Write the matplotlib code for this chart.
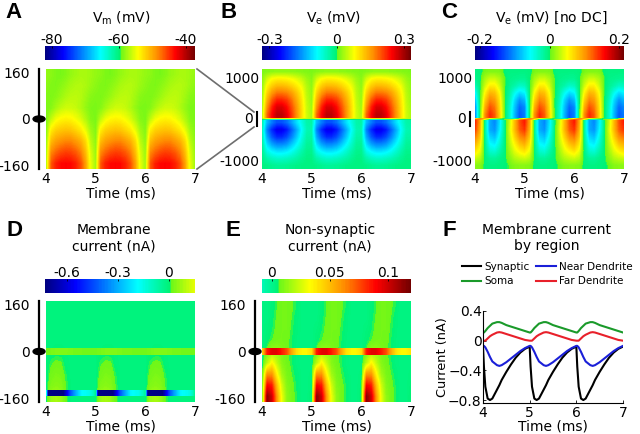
import numpy as np
import matplotlib
matplotlib.use('Agg')
import matplotlib.pyplot as plt
from matplotlib.colors import LinearSegmentedColormap, Normalize
from matplotlib.lines import Line2D
from matplotlib.patches import Ellipse

W, H = 640, 434

# one cycle of each field, columns are 0, 0.1 ... 0.9 ms after the cycle start, rows top to bottom
vm_field = [
    [-58.0, -58.3, -58.8, -59.0, -58.6, -58.0, -57.6, -57.3, -57.3, -57.6],
    [-58.3, -58.7, -58.8, -58.4, -57.9, -57.3, -57.0, -56.9, -57.2, -57.8],
    [-58.7, -58.8, -58.4, -57.8, -57.1, -56.7, -56.6, -56.9, -57.6, -58.4],
    [-58.9, -58.5, -57.4, -56.5, -56.0, -56.0, -56.3, -57.0, -58.0, -58.8],
    [-58.9, -56.5, -54.8, -54.0, -53.7, -53.9, -54.6, -55.6, -57.0, -58.5],
    [-58.6, -53.5, -52.0, -51.5, -51.2, -51.4, -52.2, -53.2, -55.0, -57.5],
    [-58.2, -51.0, -49.5, -48.8, -48.3, -48.3, -49.2, -50.3, -52.5, -56.5],
    [-57.8, -48.5, -47.0, -46.0, -45.5, -45.7, -46.5, -48.0, -51.0, -55.5],
    [-57.5, -46.5, -44.3, -43.4, -43.2, -43.4, -44.3, -46.0, -49.5, -55.0],
]
ve_upper = [
    [.012, .016, .020, .022, .022, .022, .020, .018, .016, .014],
    [.018, .055, .080, .088, .088, .084, .076, .064, .050, .030],
    [.022, .084, .116, .132, .132, .126, .112, .094, .072, .040],
    [.026, .110, .155, .180, .180, .172, .152, .122, .088, .046],
    [.028, .135, .195, .228, .228, .214, .182, .142, .098, .050],
    [.032, .160, .228, .268, .268, .244, .202, .156, .104, .054],
    [.036, .185, .245, .285, .285, .260, .212, .160, .106, .056],
]
ve_lower = [
    [-.030, -.130, -.170, -.200, -.200, -.180, -.145, -.105, -.070, -.035],
    [-.035, -.165, -.225, -.262, -.262, -.238, -.190, -.140, -.085, -.040],
    [-.030, -.140, -.195, -.225, -.225, -.204, -.165, -.120, -.072, -.032],
    [-.022, -.105, -.145, -.165, -.165, -.152, -.122, -.090, -.055, -.024],
    [-.015, -.070, -.092, -.105, -.105, -.097, -.080, -.058, -.036, -.016],
    [-.010, -.034, -.048, -.055, -.055, -.050, -.042, -.032, -.020, -.010],
    [-.008, -.012, -.018, -.022, -.022, -.020, -.016, -.012, -.010, -.008],
]
ve_stripe = [
    [.040, .080, .100, .100, .100, .090, .080, .070, .060, .050],
    [-.005, -.030, -.050, -.050, -.040, -.030, -.020, -.010, -.005, -.005],
]
nodc_upper = [
    [-.006, -.004, .006, .010, .010, .008, -.002, -.006, -.006, -.006],
    [-.012, -.003, .022, .035, .035, .024, .002, -.008, -.010, -.012],
    [-.030, -.004, .035, .060, .058, .036, .002, -.012, -.022, -.034],
    [-.060, -.004, .055, .088, .082, .052, .002, -.020, -.050, -.070],
    [-.085, -.004, .072, .110, .100, .062, .002, -.028, -.070, -.100],
    [-.105, -.004, .090, .130, .115, .068, .002, -.034, -.080, -.118],
    [-.110, .000, .105, .145, .125, .072, .003, -.036, -.085, -.125],
]
nodc_lower = [
    [.150, .095, -.015, -.090, -.105, -.065, -.008, .035, .085, .130],
    [.140, .090, -.015, -.090, -.100, -.060, -.008, .040, .085, .125],
    [.115, .078, -.012, -.072, -.082, -.048, -.006, .034, .072, .105],
    [.090, .062, -.009, -.055, -.062, -.036, -.005, .028, .056, .080],
    [.065, .046, -.006, -.036, -.040, -.022, -.004, .020, .042, .056],
    [.036, .028, -.004, -.015, -.016, -.009, -.003, .012, .026, .032],
    [.012, .010, -.003, -.006, -.006, -.004, -.003, .003, .010, .012],
]
nodc_stripe = [
    [.060, .110, .090, .050, .025, .008, -.005, -.030, -.030, .010],
    [.130, .110, .050, -.015, -.030, -.020, .005, .025, .045, .100],
]
im_field = [
    [-.005, -.005, -.005, -.005, -.005, -.005, -.005, -.005, -.005, -.005],
    [-.005, -.005, -.005, -.005, -.005, -.005, -.005, -.005, -.005, -.005],
    [-.005, -.005, -.005, -.005, -.005, -.005, -.005, -.005, -.005, -.005],
    [-.005, -.005, -.005, -.005, -.005, -.005, -.005, -.005, -.005, -.005],
    [-.005, -.004, -.002, -.002, -.004, -.005, -.005, -.005, -.005, -.005],
    [-.005, .010, .018, .016, -.002, -.005, -.005, -.005, -.005, -.005],
    [-.005, .022, .032, .028, .008, -.005, -.005, -.005, -.005, -.005],
    [-.005, .036, .046, .040, .014, -.005, -.005, -.005, -.005, -.005],
    [-.005, .070, .085, .065, .018, -.005, -.005, -.005, -.005, -.005],
]
im_stripe_mid = [.020, .030, .035, .035, .035, .032, .028, .025, .020, .020]
# 0.05 ms columns, the synaptic band is sharp
im_stripe_syn = [-.03, -.72, -.72, -.72, -.72, -.72, -.72, -.72, -.62, -.52,
                 -.42, -.36, -.30, -.25, -.20, -.18, -.17, -.16, -.14, -.10]
ic_field = [
    [.002, .002, .004, .0065, .008, .008, .007, .0053, .002, .002],
    [.002, .002, .0047, .007, .008, .008, .0065, .0043, .002, .002],
    [.002, .0035, .0053, .0075, .008, .008, .006, .004, .002, .002],
    [.002, .0046, .0065, .008, .008, .0075, .0055, .0035, .002, .002],
    [.002, .007, .014, .014, .010, .007, .0053, .003, .002, .002],
    [.002, .020, .035, .022, .011, .0075, .0057, .003, .002, .002],
    [.003, .060, .060, .035, .016, .009, .0065, .0045, .002, .002],
    [.004, .090, .085, .050, .025, .011, .0075, .0052, .002, .002],
    [.005, .115, .100, .060, .030, .013, .008, .0055, .002, .002],
]
ic_stripe = [.040, .085, .095, .095, .085, .075, .055, .040, .035, .035]

# panel F, one cycle
t_cycle = [0, .02, .05, .1, .15, .2, .3, .35, .4, .5, .6, .7, .8, .9]
i_synaptic = [-.08, -.35, -.62, -.78, -.80, -.78, -.66, -.60, -.53, -.42, -.32, -.23, -.16, -.11]
i_near = [-.07, -.07, -.09, -.15, -.22, -.28, -.33, -.34, -.33, -.29, -.24, -.19, -.14, -.10]
i_soma = [.11, .11, .13, .17, .20, .23, .25, .25, .24, .21, .19, .17, .15, .13]
i_far = [.00, .00, .00, .03, .06, .08, .11, .115, .11, .09, .07, .05, .03, .01]


def ax_px(x0, y0, x1, y1):
    return fig.add_axes([x0 / W, 1 - y1 / H, (x1 - x0) / W, (y1 - y0) / H])


def label(x, y, s, **kw):
    fig.text(x / W, 1 - y / H, s, ha='center', va='center', **kw)


def show_cycle(ax, table, y0, y1, cmap, norm):
    # repeat the cycle 3 times, first column again at the end so it reaches 7 ms
    table = np.atleast_2d(table)
    data = np.tile(table, (1, 3))
    data = np.hstack([data, table[:, :1]])
    half = 0.5 / table.shape[1]
    return ax.imshow(data, extent=[4 - half, 7 + half, y0, y1], origin='upper', aspect='auto',
                     cmap=cmap, norm=norm, interpolation='bilinear', interpolation_stage='data')


def finish_axes(ax, ylim, yticks, ylabels, pad):
    ax.set_xlim(4, 7)
    ax.set_ylim(-ylim, ylim)
    ax.set_xticks([4, 5, 6, 7])
    ax.set_yticks(yticks)
    ax.set_yticklabels(ylabels)
    ax.tick_params(length=0, labelsize=10)
    ax.tick_params(axis='x', pad=2.5)
    ax.tick_params(axis='y', pad=pad)
    ax.set_xlabel('Time (ms)', fontsize=10, labelpad=0)
    for s in ax.spines.values():
        s.set_visible(False)


def add_bar(x0, x1, y0, im, ticks, ticklabels):
    cax = ax_px(x0, y0, x1, y0 + 14)
    cb = fig.colorbar(im, cax=cax, orientation='horizontal', ticklocation='top')
    cb.set_ticks(ticks)
    cb.set_ticklabels(ticklabels)
    cb.outline.set_visible(False)
    cax.tick_params(length=1.5, direction='in', width=0.6, labelsize=10, pad=-0.5)


def neuron_bar(ax, ylim):
    ax.plot([3.86, 3.86], [-ylim, ylim], color='k', lw=1.6, clip_on=False)
    ax.add_patch(Ellipse((3.86, 0), 0.24, 2 * ylim * 6 / 100, color='k', clip_on=False))


jet_like = LinearSegmentedColormap.from_list('jet_like', [
    (0, (0, 0, .5)), (.12, (0, 0, 1)), (.37, (0, 1, 1)), (.5, (0, .95, .45)),
    (.505, (.42, .97, .1)), (.62, (1, 1, 0)), (.75, (1, .55, 0)), (.87, (1, 0, 0)), (1, (.45, 0, 0))])
cmap_low = LinearSegmentedColormap.from_list('low', jet_like(np.linspace(0, .6, 256)))
cmap_high = LinearSegmentedColormap.from_list('high', jet_like(np.linspace(.44, 1, 256)))

fig = plt.figure(figsize=(W / 100, H / 100), dpi=100)

# A
ax = ax_px(46, 69, 195, 169)
norm = Normalize(-82, -37.3)
im = show_cycle(ax, vm_field, -172, 172, jet_like, norm)
finish_axes(ax, 172, [-160, 0, 160], ['-160', '0', '160'], 11.5)
neuron_bar(ax, 172)
add_bar(45, 195, 46, im, [-80, -60, -40], ['-80', '-60', '-40'])
label(121, 18, r'V$_{\mathrm{m}}$ (mV)', fontsize=10)

# B
ax = ax_px(262, 69, 411, 169)
norm = Normalize(-.333, .333)
im = show_cycle(ax, ve_upper, 20, 1200, jet_like, norm)
show_cycle(ax, ve_lower, -1200, -20, jet_like, norm)
show_cycle(ax, ve_stripe, -20, 20, jet_like, norm)
finish_axes(ax, 1200, [-1000, 1000], ['-1000', '1000'], 2)
ax.text(3.82, 0, '0', ha='right', va='center', fontsize=10)
ax.plot([3.9, 3.9], [-160, 160], color='k', lw=1.5, clip_on=False)
add_bar(262, 411, 46, im, [-.3, 0, .3], ['-0.3', '0', '0.3'])
label(334, 18, r'V$_{\mathrm{e}}$ (mV)', fontsize=10)

# C
ax = ax_px(475, 69, 624, 169)
norm = Normalize(-.215, .215)
im = show_cycle(ax, nodc_upper, 20, 1200, jet_like, norm)
show_cycle(ax, nodc_lower, -1200, -20, jet_like, norm)
show_cycle(ax, nodc_stripe, -20, 20, jet_like, norm)
finish_axes(ax, 1200, [-1000, 1000], ['-1000', '1000'], 2)
ax.text(3.82, 0, '0', ha='right', va='center', fontsize=10)
ax.plot([3.9, 3.9], [-160, 160], color='k', lw=1.5, clip_on=False)
add_bar(475, 624, 46, im, [-.2, 0, .2], ['-0.2', '0', '0.2'])
label(551, 18, r'V$_{\mathrm{e}}$ (mV) [no DC]', fontsize=10)

# D
ax = ax_px(46, 301, 195, 402)
norm = Normalize(-.73, .155)
im = show_cycle(ax, im_field, -172, 172, cmap_low, norm)
show_cycle(ax, im_stripe_mid, -11, 11, cmap_low, norm)
show_cycle(ax, im_stripe_syn, -150, -130, cmap_low, norm)
finish_axes(ax, 172, [-160, 0, 160], ['-160', '0', '160'], 11.5)
neuron_bar(ax, 172)
add_bar(45, 195, 279, im, [-.6, -.3, 0], ['-0.6', '-0.3', '0'])
label(114, 238, 'Membrane\ncurrent (nA)', fontsize=10, linespacing=1.25)

# E
ax = ax_px(262, 301, 411, 402)
norm = Normalize(-.0086, .12)
im = show_cycle(ax, ic_field, -172, 172, cmap_high, norm)
show_cycle(ax, ic_stripe, -11, 11, cmap_high, norm)
finish_axes(ax, 172, [-160, 0, 160], ['-160', '0', '160'], 11.5)
neuron_bar(ax, 172)
add_bar(262, 411, 279, im, [0, .05, .1], ['0', '0.05', '0.1'])
label(330, 238, 'Non-synaptic\ncurrent (nA)', fontsize=10, linespacing=1.25)

# F
ax = ax_px(483, 311, 623, 403)
t = np.concatenate([np.array(t_cycle) + k for k in (4, 5, 6)] + [[7]])
for vals, col, name in [(i_synaptic, 'k', 'Synaptic'), (i_soma, '#1a9a2a', 'Soma'),
                        (i_near, '#1a1fd8', 'Near Dendrite'), (i_far, '#e8202a', 'Far Dendrite')]:
    y = np.concatenate([vals, vals, vals, vals[:1]])
    ax.plot(t, y, color=col, lw=1.5, label=name)
ax.set_xlim(4, 7)
ax.set_ylim(-.84, .4)
ax.set_xticks([4, 5, 6, 7])
ax.set_yticks([-.8, -.4, 0, .4])
ax.set_yticklabels(['\u22120.8', '\u22120.4', '0', '0.4'])
ax.tick_params(direction='in', length=2, width=.6, labelsize=10, pad=2)
ax.tick_params(axis='y', pad=1)
ax.spines['top'].set_visible(False)
ax.spines['right'].set_visible(False)
ax.set_xlabel('Time (ms)', fontsize=10, labelpad=0)
ax.set_ylabel('Current (nA)', fontsize=9.3, labelpad=-1)
fig.legend(loc='center', bbox_to_anchor=(547 / W, 1 - 274 / H), ncol=2, frameon=False, fontsize=7.5,
           handlelength=1.85, handletextpad=.3, columnspacing=.7, labelspacing=.45, borderpad=0)
label(547, 238, 'Membrane current\nby region', fontsize=10, linespacing=1.25)

# lines from panel A out to the zoomed view
for y_from, y_to in [(69, 112), (169, 127)]:
    fig.add_artist(Line2D([197 / W, 254 / W], [1 - y_from / H, 1 - y_to / H], color='#6e6e6e', lw=1.2))

for x, y, s in [(14, 13, 'A'), (229, 13, 'B'), (449, 13, 'C'), (14, 231, 'D'), (233, 231, 'E'), (449, 230, 'F')]:
    label(x, y, s, fontsize=16, fontweight='bold', family='Liberation Sans')

fig.savefig('out.png', dpi=100)
